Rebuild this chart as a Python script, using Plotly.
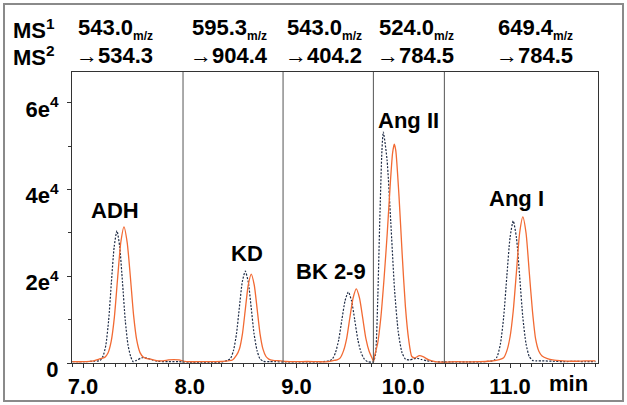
import plotly.graph_objects as go

# ---------------- data ----------------
# dashed (dark) trace: retention time (min) and intensity (counts)
dash_t = [6.90, 7.00, 7.10, 7.15, 7.162, 7.188, 7.214, 7.240, 7.266, 7.292, 7.318, 7.344, 7.370, 7.396,
          7.422, 7.448, 7.47, 7.50, 7.55, 7.60, 7.65, 7.70, 7.80, 7.90, 8.00, 8.10, 8.20, 8.30, 8.355,
          8.383, 8.41, 8.438, 8.465, 8.492, 8.52, 8.548, 8.575, 8.602, 8.63, 8.657, 8.69, 8.75, 8.80,
          8.90, 9.00, 9.10, 9.20, 9.305, 9.335, 9.365, 9.395, 9.425, 9.455, 9.485, 9.515, 9.545, 9.575,
          9.605, 9.635, 9.665, 9.70, 9.72, 9.74, 9.76, 9.78, 9.80, 9.813, 9.848, 9.883, 9.918, 9.953,
          9.988, 10.02, 10.06, 10.10, 10.13, 10.17, 10.22, 10.30, 10.385, 10.45, 10.60, 10.75, 10.85,
          10.88, 10.91, 10.94, 10.97, 11.00, 11.03, 11.06, 11.09, 11.12, 11.15, 11.18, 11.21, 11.25,
          11.30, 11.40, 11.50, 11.60, 11.70, 11.80]
dash_i = [300, 300, 400, 500, 600, 1600, 4100, 9800, 18600, 26800, 30500, 26800, 18600, 9800,
          4100, 1400, 300, 600, 1200, 1100, 700, 400, 300, 300, 200, 200, 200, 250, 600,
          1100, 2900, 6800, 12900, 18700, 21200, 18700, 12900, 6800, 2900, 1000, 400, 300, 300,
          250, 250, 250, 250, 500, 900, 2400, 5300, 10000, 14400, 16400, 14400, 10000, 5300,
          2400, 900, 300, 200, 300, 2000, 14000, 33000, 49000, 53300, 46900, 32500, 17000, 7200,
          2400, 900, 700, 1000, 1100, 800, 500, 300, 250, 250, 250, 300, 600,
          1500, 4400, 10500, 20000, 28900, 32800, 28900, 20000, 10500, 4400, 1500, 600, 500,
          500, 400, 300, 400, 300, 300]

# solid (orange) trace
solid_t = [6.90, 7.00, 7.10, 7.15, 7.204, 7.234, 7.264, 7.294, 7.324, 7.354, 7.384, 7.414, 7.444, 7.474,
           7.504, 7.534, 7.564, 7.60, 7.65, 7.70, 7.75, 7.80, 7.85, 7.90, 7.95, 8.00, 8.10, 8.20, 8.30,
           8.40, 8.438, 8.466, 8.494, 8.521, 8.548, 8.576, 8.604, 8.631, 8.658, 8.686, 8.714, 8.74, 8.78,
           8.85, 8.90, 9.00, 9.10, 9.20, 9.30, 9.35, 9.38, 9.41, 9.44, 9.47, 9.50, 9.53, 9.56, 9.59,
           9.62, 9.65, 9.68, 9.71, 9.722, 9.73, 9.76, 9.79, 9.82, 9.85, 9.88, 9.90, 9.916, 9.93, 9.96,
           9.99, 10.02, 10.05, 10.08, 10.11, 10.15, 10.19, 10.24, 10.30, 10.385, 10.50, 10.60, 10.70,
           10.80, 10.90, 10.94, 10.97, 11.00, 11.03, 11.06, 11.09, 11.12, 11.15, 11.18, 11.21, 11.24,
           11.27, 11.30, 11.35, 11.40, 11.50, 11.60, 11.70, 11.80]
solid_i = [300, 300, 500, 900, 1300, 2300, 5000, 10600, 19500, 27800, 31400, 27800, 19800, 11000,
           5200, 2400, 1400, 1000, 800, 500, 500, 700, 800, 700, 400, 300, 300, 300, 350,
           700, 1800, 3300, 6800, 12500, 18000, 20500, 18000, 12500, 6800, 3200, 1500, 900, 600,
           500, 350, 300, 350, 300, 300, 600, 700, 1200, 2800, 5700, 10500, 15000, 17100, 15000,
           10400, 5600, 2700, 1000, 300, 1500, 4500, 10500, 19500, 30000, 42000, 48500, 50500, 49000, 38500,
           25000, 13000, 5500, 1500, 1200, 1700, 1400, 700, 300, 200, 300, 250, 300,
           400, 800, 1200, 2800, 6000, 12000, 21000, 30000, 33700, 30000, 21000, 12000, 5500,
           2700, 1600, 1000, 700, 500, 400, 500, 500]

segment_bounds = [7.937, 8.874, 9.72, 10.385]
peak_names = ["ADH", "KD", "BK 2-9", "Ang II", "Ang I"]
peak_label_t = [7.30, 8.535, 9.32, 10.05, 11.06]
peak_label_i = [35300, 25300, 21000, 55900, 38000]
ms1_labels = ["543.0", "595.3", "543.0", "524.0", "649.4"]
ms2_labels = ["534.3", "904.4", "404.2", "784.5", "784.5"]
x_tick_vals = [7, 8, 9, 10, 11]
x_tick_text = ["7.0", "8.0", "9.0", "10.0", "11.0"]
y_tick_vals = [0, 20000, 40000, 60000]
y_tick_text = ["0", "2e<sup>4</sup>", "4e<sup>4</sup>", "6e<sup>4</sup>"]

# ---------------- layout helpers ----------------
W, H = 627, 405
L, R, T, B = 72, 29, 72, 42
PW, PH = W - L - R, H - T - B


def px(xp):
    return (xp - L) / PW


def py(yp):
    return (H - B - yp) / PH


def b(s):
    return "<b>" + s + "</b>"


FONT = "Liberation Sans, Arial, sans-serif"
ORANGE = "#f26a33"
DARK = "#1e2b45"
FS = 22

fig = go.Figure()
fig.add_trace(go.Scatter(x=dash_t, y=dash_i, mode="lines",
                         line=dict(color=DARK, width=1.2, dash="2px,1.5px", shape="spline", smoothing=0.6),
                         hoverinfo="skip", showlegend=False))
fig.add_trace(go.Scatter(x=solid_t, y=solid_i, mode="lines",
                         line=dict(color=ORANGE, width=1.3, shape="spline", smoothing=0.6),
                         hoverinfo="skip", showlegend=False))

for xb in segment_bounds:
    fig.add_shape(type="line", xref="x", yref="y domain", x0=xb, x1=xb, y0=0, y1=1,
                  line=dict(color="#555555", width=1))

# outer frame
fig.add_shape(type="rect", xref="paper", yref="paper", x0=px(4), x1=px(623), y0=py(401), y1=py(4),
              line=dict(color="#8a8a8a", width=2), layer="below")

anns = []
bold = dict(family=FONT, size=FS, color="black")
for name, t, i in zip(peak_names, peak_label_t, peak_label_i):
    anns.append(dict(x=t, y=i, xref="x", yref="y", text=b(name), showarrow=False,
                     font=bold, xanchor="center", yanchor="middle"))

col_x = [76, 190, 285, 377, 496]
for cx, m1, m2 in zip(col_x, ms1_labels, ms2_labels):
    anns.append(dict(x=px(cx), y=py(29), xref="paper", yref="paper", xanchor="left", yanchor="middle",
                     text=b(m1) + "<sub><span style='font-size:12px'><b>m/z</b></span></sub>",
                     showarrow=False, font=bold))
    anns.append(dict(x=px(cx - 2), y=py(56), xref="paper", yref="paper", xanchor="left", yanchor="middle",
                     text="\u2192" + b(m2), showarrow=False, font=bold))
anns.append(dict(x=px(11), y=py(29), xref="paper", yref="paper", xanchor="left", yanchor="middle",
                 text=b("MS<sup>1</sup>"), showarrow=False, font=bold))
anns.append(dict(x=px(11), y=py(56), xref="paper", yref="paper", xanchor="left", yanchor="middle",
                 text=b("MS<sup>2</sup>"), showarrow=False, font=bold))
anns.append(dict(x=px(547), y=py(383), xref="paper", yref="paper", xanchor="left", yanchor="middle",
                 text=b("min"), showarrow=False, font=bold))

fig.update_layout(
    width=W, height=H, margin=dict(l=L, r=R, t=T, b=B, autoexpand=False),
    paper_bgcolor="white", plot_bgcolor="white",
    annotations=anns, showlegend=False,
    font=dict(family=FONT, size=FS, color="black"),
)
fig.update_xaxes(range=[6.897, 11.824], showgrid=False, zeroline=False, showline=True, linecolor="#333",
                 linewidth=1, mirror=True, ticks="outside", ticklen=4, tickcolor="#333", tickwidth=1,
                 tickvals=x_tick_vals, ticktext=[b(s) for s in x_tick_text],
                 tickfont=dict(family=FONT, size=FS, color="black"),
                 minor=dict(dtick=0.1, tick0=7, ticks="outside", ticklen=3, tickcolor="#333", showgrid=False))
fig.update_yaxes(range=[0, 67150], showgrid=False, zeroline=False, showline=True, linecolor="#333",
                 linewidth=1, mirror=True, ticks="outside", ticklen=4, tickcolor="#333", tickwidth=1,
                 tickvals=y_tick_vals, ticktext=[b(s) for s in y_tick_text],
                 tickfont=dict(family=FONT, size=FS, color="black"),
                 ticklabelstandoff=4, ticklabelshift=6,
                 minor=dict(tickvals=[10000, 30000, 50000], ticks="outside", ticklen=3, tickcolor="#333",
                            showgrid=False))

fig.write_html("out.html", config={"displayModeBar": False},
               post_script="document.body.style.margin='0';document.body.style.overflow='hidden';")
